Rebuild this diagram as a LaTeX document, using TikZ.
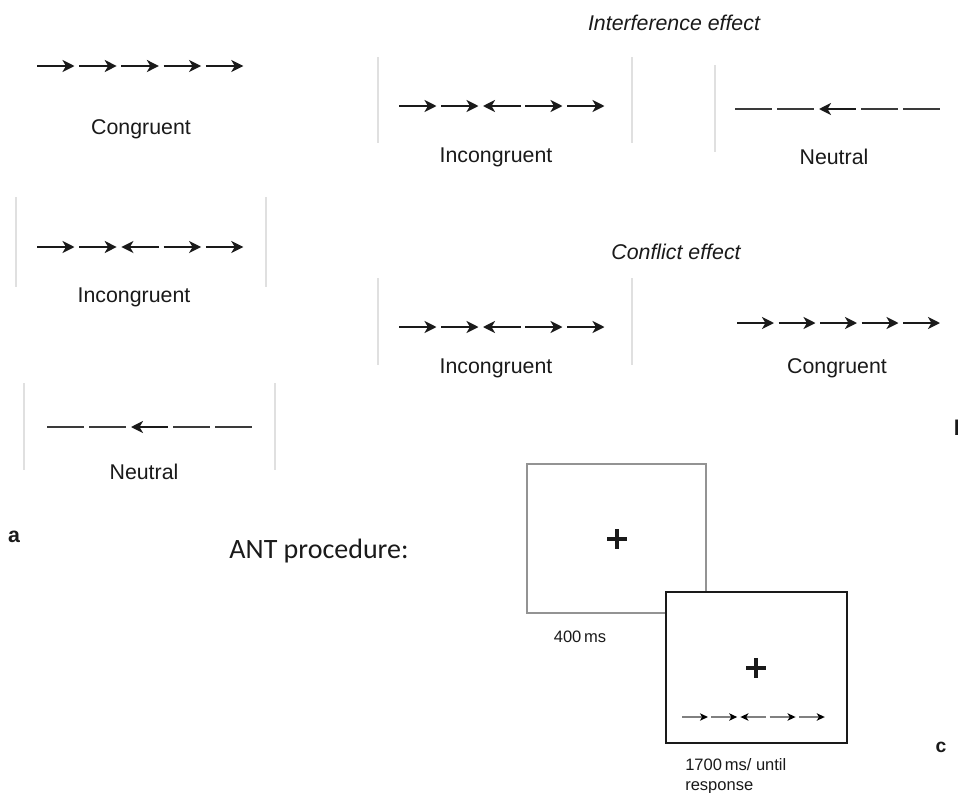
\documentclass[tikz,border=0pt]{standalone}
\usepackage{fontspec}
\setmainfont{Liberation Sans}
\newfontfamily\calib{Carlito}
\usetikzlibrary{arrows.meta}
\definecolor{ink}{HTML}{1A1A1A}
\definecolor{dashgray}{HTML}{3A3A3A}
\definecolor{faint}{HTML}{E0E0E0}
\tikzset{
  stim/.style={line width=2.2pt, draw=ink},
  arR/.style={-{Stealth[length=9pt,width=9pt,inset=2.6pt]}},
  arL/.style={{Stealth[length=9pt,width=9pt,inset=2.6pt]}-},
  arD/.style={draw=dashgray},
  small/.style={line width=1.6pt, draw=gray},
  sR/.style={-{Stealth[length=6pt,width=5.5pt,inset=1.6pt,color=black]}},
  sL/.style={{Stealth[length=6pt,width=5.5pt,inset=1.6pt,color=black]}-},
  sep/.style={line width=0.8pt, draw=faint},
  lab/.style={inner sep=0pt, text=ink, font=\fontsize{16}{19}\selectfont},
  hdr/.style={inner sep=0pt, text=ink, font=\fontsize{16}{19}\selectfont\itshape},
  tim/.style={inner sep=0pt, text=ink, font=\fontsize{12.4}{15}\selectfont},
  panel/.style={inner sep=0pt, text=ink, font=\fontsize{16}{19}\selectfont\bfseries},
  fixcross/.style={line width=2.8pt, draw=ink},
}
% #1 x start, #2 y, #3 pitch, #4 length, #5 base style, #6 list of item styles
\newcommand{\stimrow}[6]{%
  \foreach \t [count=\i from 0] in {#6}
    \draw[#5,\t] ({#1+#3*\i},#2) -- ++(#4,0);%
}
\begin{document}
\begin{tikzpicture}[x=0.75pt,y=-0.75pt]
\path[use as bounding box, clip] (0,0) rectangle (958,793);
\fill[white] (0,0) rectangle (958,793);

% ---------- panel a ----------
\stimrow{37}{66}{42.2}{37.5}{stim}{arR,arR,arR,arR,arR}
\node[lab] (congA) at (141,129.5) {Congruent};

\draw[sep] (16,197) -- (16,287);
\draw[sep] (266,197) -- (266,287);
\stimrow{37}{247}{42.2}{37.5}{stim}{arR,arR,arL,arR,arR}
\node[lab] (incA) at (134,297) {Incongruent};

\draw[sep] (24,383) -- (24,470);
\draw[sep] (275,383) -- (275,470);
\stimrow{47}{427}{42}{36.5}{stim}{arD,arD,arL,arD,arD}
\node[lab] (neuA) at (144,471.5) {Neutral};

\node[panel, anchor=base] (pa) at (14,542) {a};

% ---------- panel b ----------
\node[hdr] (interf) at (674,23) {Interference effect};
\draw[sep] (378,57) -- (378,143);
\draw[sep] (632,57) -- (632,143);
\stimrow{399}{106}{42}{37.5}{stim}{arR,arR,arL,arR,arR}
\node[lab] (incB1) at (496,157) {Incongruent};

\draw[sep] (715,65) -- (715,152);
\stimrow{735}{109}{42}{37}{stim}{arD,arD,arL,arD,arD}
\node[lab] (neuB) at (834,156.5) {Neutral};

\node[hdr] (confl) at (676,252) {Conflict effect};
\draw[sep] (378,278) -- (378,365);
\draw[sep] (632,278) -- (632,365);
\stimrow{399}{327}{42}{37.5}{stim}{arR,arR,arL,arR,arR}
\node[lab] (incB2) at (496,368) {Incongruent};

\stimrow{737}{323}{41.5}{37}{stim}{arR,arR,arR,arR,arR}
\node[lab] (congB) at (837,368) {Congruent};

\node[panel, anchor=base west] (pb) at (953.5,435) {b};

% ---------- panel c ----------
\node[inner sep=0pt, text=ink, font=\calib\fontsize{21}{25}\selectfont, anchor=base] (ant) at (319,558) {ANT procedure:};

\draw[line width=1.2pt, draw=gray!85] (527,464) rectangle (706,613);
\draw[fixcross] (607,539) -- (627,539) (617,529) -- (617,549);
\node[tim, anchor=base] (t400) at (580,642) {400\,ms};

\filldraw[fill=white, draw=ink, line width=1.7pt] (666,592) rectangle (847,743);
\draw[fixcross] (746,668) -- (766,668) (756,658) -- (756,678);
\stimrow{682}{717}{29.2}{26}{small}{sR,sR,sL,sR,sR}

\node[tim, anchor=base west] (t1700) at (685,770) {1700\,ms/ until};
\node[tim, anchor=base west] (tresp) at (685,790) {response};

\node[inner sep=0pt, text=ink, font=\fontsize{14.5}{17}\selectfont\bfseries, anchor=base] (pc) at (941,752) {c};
\end{tikzpicture}
\end{document}
